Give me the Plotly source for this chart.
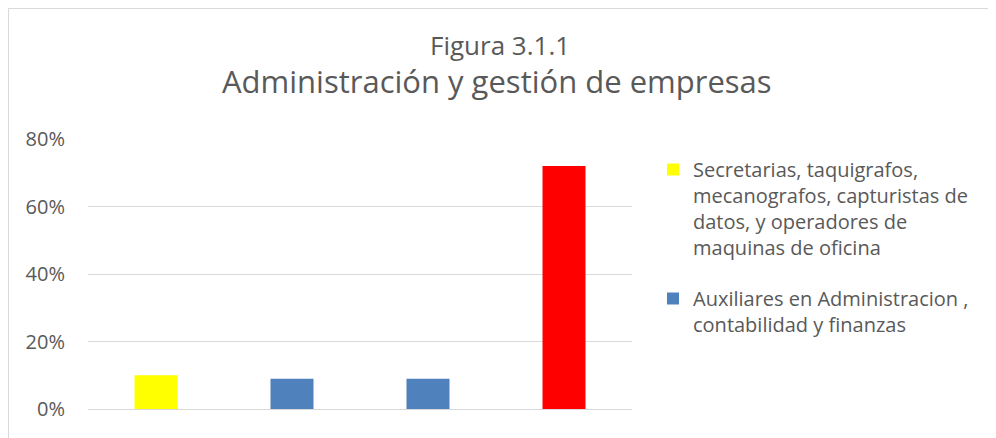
import plotly.graph_objects as go

# ---- data ----
categorias = ["1", "2", "3", "4"]
serie_secretarias = "Secretarias, taquigrafos,<br>mecanografos, capturistas de<br>datos, y operadores de<br>maquinas de oficina"
serie_auxiliares = "Auxiliares en Administracion ,<br>contabilidad y finanzas"
serie_otros = "Otros"
valores_secretarias = [0.10]
valores_auxiliares = [0.09, 0.09]
valores_otros = [0.72]
cats_secretarias = [categorias[0]]
cats_auxiliares = [categorias[1], categorias[2]]
cats_otros = [categorias[3]]
y_ticks = [0, 0.2, 0.4, 0.6, 0.8]
titulo_1 = "Figura 3.1.1"
titulo_2 = "Administración y gestión de empresas"

# ---- layout constants (pixels, screen coordinates; page body has an 8px offset) ----
OFF = 8
W, H = 996, 438
PLOT_L, PLOT_R, PLOT_T, PLOT_B = 88, 632, 139, 409   # target screen positions
L = PLOT_L - OFF
T = PLOT_T - OFF
PW = PLOT_R - PLOT_L
PH = PLOT_B - PLOT_T
R = W - L - PW
B = H - T - PH
TXT = "#595959"
GRID = "#D9D9D9"
FONT = "Open Sans"


def px_x(sx):
    return (sx - PLOT_L) / PW


def px_y(sy):
    return (PLOT_B - sy) / PH


fig = go.Figure()
fig.add_trace(go.Bar(x=cats_secretarias, y=valores_secretarias, name=serie_secretarias,
                     marker=dict(color="#FFFF00", line=dict(width=0)), legendgroup="a"))
fig.add_trace(go.Bar(x=cats_auxiliares, y=valores_auxiliares, name=serie_auxiliares,
                     marker=dict(color="#4F81BD", line=dict(width=0)), legendgroup="b"))
fig.add_trace(go.Bar(x=cats_otros, y=valores_otros, name=serie_otros,
                     marker=dict(color="#FF0000", line=dict(width=0)), showlegend=False,
                     legendgroup="c"))

fig.update_layout(
    width=W, height=H,
    margin=dict(l=L, r=R, t=T, b=B, autoexpand=False),
    paper_bgcolor="white", plot_bgcolor="white",
    barmode="overlay", bargap=0.684,
    font=dict(family=FONT, color=TXT, size=20),
    showlegend=True,
    legend=dict(x=px_x(653), xanchor="left", y=px_y(150), yanchor="top",
                font=dict(family=FONT, size=20, color=TXT), valign="top",
                traceorder="grouped", tracegroupgap=22,
                bgcolor="rgba(0,0,0,0)", borderwidth=0),
    xaxis=dict(type="category", categoryorder="array", categoryarray=categorias,
               showticklabels=False, showgrid=False, zeroline=False,
               showline=False, ticks=""),
    yaxis=dict(range=[0, 0.8], tickvals=y_ticks, tickformat=".0%",
               showgrid=True, gridcolor=GRID, gridwidth=1,
               zeroline=True, zerolinecolor=GRID, zerolinewidth=1,
               showline=False, ticks="", ticklabelstandoff=22,
               tickfont=dict(family=FONT, size=20, color=TXT)),
    annotations=[
        dict(text=titulo_1, x=px_x(500), y=px_y(45), xref="paper", yref="paper",
             xanchor="center", yanchor="middle", showarrow=False,
             font=dict(family=FONT, size=26, color=TXT)),
        dict(text=titulo_2, x=px_x(497), y=px_y(81), xref="paper", yref="paper",
             xanchor="center", yanchor="middle", showarrow=False,
             font=dict(family=FONT, size=31, color=TXT)),
    ],
    shapes=[
        dict(type="rect", xref="paper", yref="paper",
             x0=px_x(OFF + 0.5), x1=px_x(1020), y0=px_y(460), y1=px_y(OFF + 0.5),
             line=dict(color=GRID, width=1), fillcolor="rgba(0,0,0,0)", layer="below"),
    ],
)

fig.write_html("out.html")
